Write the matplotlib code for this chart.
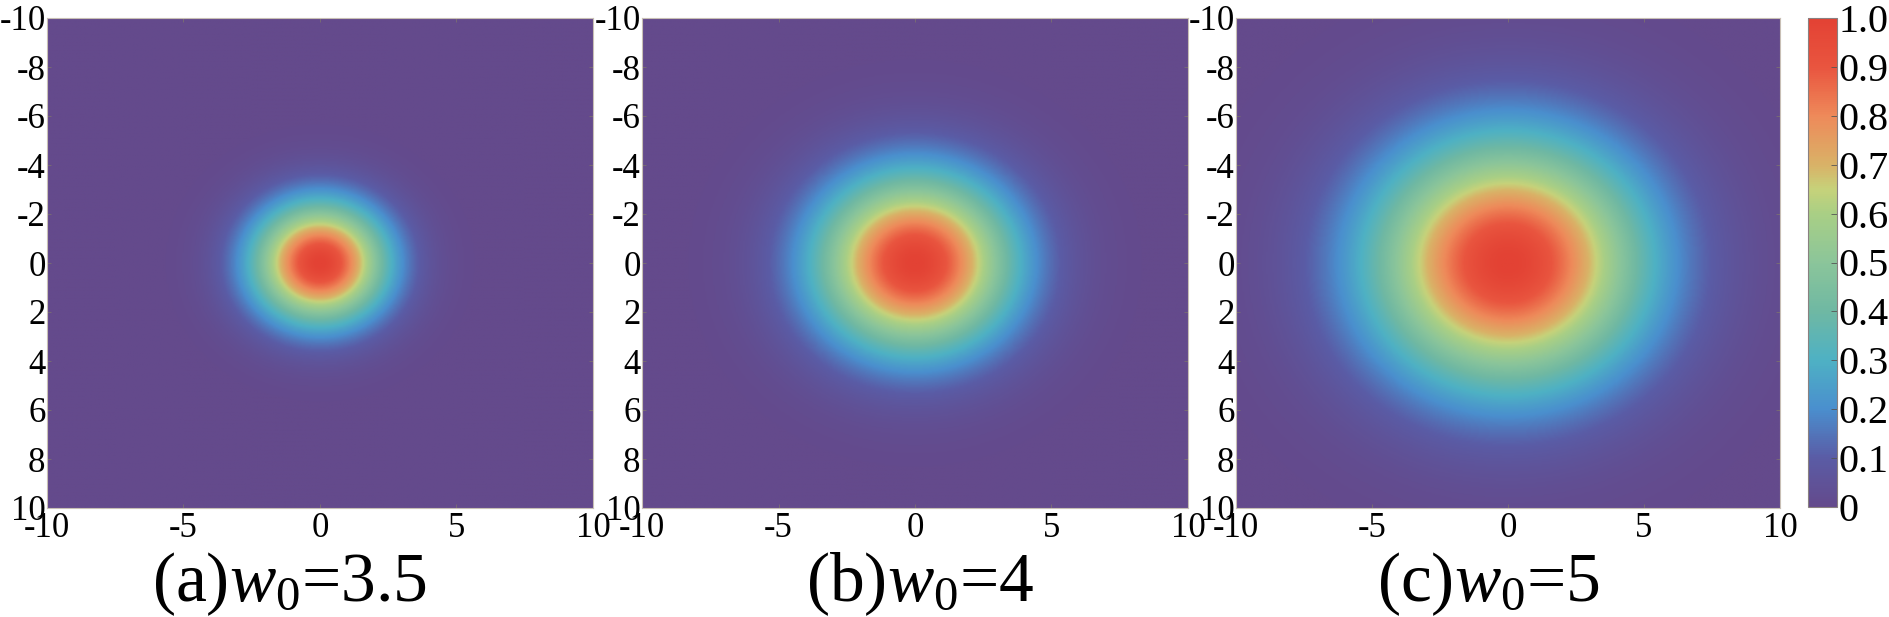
import numpy as np
import matplotlib
matplotlib.use("Agg")
import matplotlib.pyplot as plt
from matplotlib.colors import LinearSegmentedColormap

plt.rcParams['font.family'] = ['Liberation Serif', 'DejaVu Serif']
plt.rcParams['mathtext.fontset'] = 'custom'
plt.rcParams['mathtext.rm'] = 'Liberation Serif'
plt.rcParams['mathtext.it'] = 'Liberation Serif:italic'
plt.rcParams['axes.unicode_minus'] = False

# panel parameters
labels = ["(a)", "(b)", "(c)"]
w0_values = ["3.5", "4", "5"]
beam_radius = [3.4, 5.0, 7.0]     # apparent 1/e^2 radius on screen
x_ticks = [-10, -5, 0, 5, 10]
y_ticks = [-10, -8, -6, -4, -2, 0, 2, 4, 6, 8, 10]
cb_ticks = [0, 0.1, 0.2, 0.3, 0.4, 0.5, 0.6, 0.7, 0.8, 0.9, 1.0]
cb_labels = ["0", "0.1", "0.2", "0.3", "0.4", "0.5", "0.6", "0.7", "0.8", "0.9", "1.0"]

# colormap sampled off the colorbar
cmap_pos = [0.0, 0.1, 0.2, 0.3, 0.4, 0.5, 0.6, 0.65, 0.7, 0.8, 0.9, 1.0]
cmap_col = ["#644a8c", "#5a5ca6", "#4a8fce", "#4eb1c4", "#6fb8a3", "#8bc59a",
            "#a9cf85", "#c6d27a", "#d9b267", "#ee8a5a", "#e9553f", "#e34234"]
cmap = LinearSegmentedColormap.from_list("beam", list(zip(cmap_pos, cmap_col)))

x = np.linspace(-10, 10, 401)
X, Y = np.meshgrid(x, x)
R2 = X**2 + Y**2

fig = plt.figure(figsize=(18.9, 6.17), dpi=100)

lefts = [47, 642, 1236]
widths = [546, 546, 544]
title_x = [289, 920, 1488]
W, H = 1890.0, 617.0

for i in range(3):
    ax = fig.add_axes([lefts[i] / W, (H - 508) / H, widths[i] / W, 490 / H])
    I = np.exp(-2 * R2 / beam_radius[i]**2)
    im = ax.imshow(I, extent=[-10, 10, 10, -10], cmap=cmap, vmin=0, vmax=1,
                   aspect='auto', interpolation='bilinear')
    ax.set_xlim(-10, 10)
    ax.set_ylim(10, -10)
    ax.set_xticks(x_ticks)
    ax.set_yticks(y_ticks)
    ax.tick_params(direction='in', length=3, width=0.6, color='#7a7070',
                   top=True, right=True, labelsize=25)
    ax.tick_params(axis='y', pad=1)
    ax.tick_params(axis='x', pad=3)
    for s in ax.spines.values():
        s.set_color('#c8bfb5')
        s.set_linewidth(0.8)
    fig.text(title_x[i] / W, 16 / H, labels[i] + r"$w_0$=" + w0_values[i],
             ha='center', va='baseline', fontsize=50)

cax = fig.add_axes([1808 / W, (H - 507) / H, 29 / W, 489 / H])
cb = fig.colorbar(im, cax=cax, ticks=cb_ticks)
cb.ax.set_yticklabels(cb_labels)
cb.ax.tick_params(direction='in', length=4, width=0.6, color='#555555',
                  labelsize=29, pad=1)
cb.outline.set_edgecolor('#8a8080')
cb.outline.set_linewidth(0.8)

fig.savefig("out.png", dpi=100)
